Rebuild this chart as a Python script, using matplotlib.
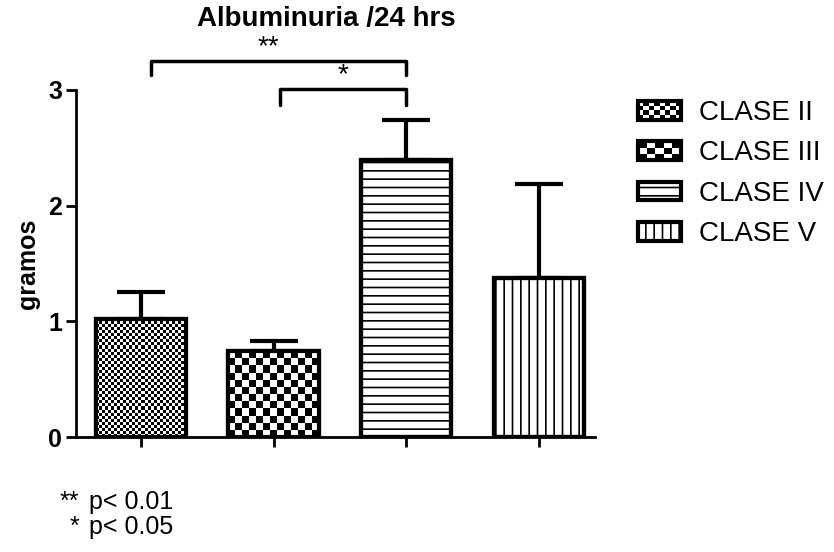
import matplotlib.pyplot as plt
import numpy as np
from matplotlib.patches import Rectangle, Patch
from matplotlib.legend_handler import HandlerBase

plt.rcParams['font.family'] = ['Liberation Sans', 'DejaVu Sans']
plt.rcParams['hatch.linewidth'] = 1.2

clases = ["CLASE II", "CLASE III", "CLASE IV", "CLASE V"]
valores = [1.02, 0.74, 2.39, 1.37]
errores = [0.23, 0.09, 0.35, 0.82]
yticks = [0, 1, 2, 3]

# checker cell size in pixels (0 = use hatch)
celdas = [3, 7, 0, 0]
hatches = [None, None, "--", "||"]


class CheckerHandler(HandlerBase):
    def __init__(self, ncols, nrows):
        super().__init__()
        self.ncols = ncols
        self.nrows = nrows

    def create_artists(self, legend, orig_handle, xdescent, ydescent,
                       width, height, fontsize, trans):
        arts = []
        x0, y0 = -xdescent, -ydescent
        cw, ch = width / self.ncols, height / self.nrows
        for i in range(self.nrows):
            for j in range(self.ncols):
                if (i + j) % 2 == 0:
                    arts.append(Rectangle((x0 + j * cw, y0 + i * ch), cw, ch,
                                          facecolor="k", edgecolor="none",
                                          transform=trans))
        arts.append(Rectangle((x0, y0), width, height, facecolor="none",
                              edgecolor="k", lw=3, transform=trans))
        return arts


fig = plt.figure(figsize=(8.34, 5.52), dpi=100)
ax = fig.add_axes([0.091, 0.2083, 0.622, 0.629])

x = np.arange(len(clases))
w = 0.68
ax.set_xlim(-0.49, 3.42)
ax.set_ylim(0, 3)

ax.errorbar(x, valores, yerr=[np.zeros(4), errores], fmt="none", ecolor="k",
            elinewidth=3, capsize=17, capthick=3, zorder=1)

bars = ax.bar(x, valores, w, facecolor="white", edgecolor="k", linewidth=3,
              zorder=3)
for b, h in zip(bars, hatches):
    if h:
        b.set_hatch(h)

# checkerboard textures
for b, c in zip(bars, celdas):
    if not c:
        continue
    x0, y0 = b.get_x(), b.get_y()
    x1, y1 = x0 + b.get_width(), y0 + b.get_height()
    p0 = ax.transData.transform((x0, y0))
    p1 = ax.transData.transform((x1, y1))
    nc = max(1, int(round((p1[0] - p0[0]) / c)))
    nr = max(1, int(round((p1[1] - p0[1]) / c)))
    ii, jj = np.indices((nr, nc))
    arr = ((ii + jj) % 2).astype(float)
    im = ax.imshow(arr, extent=[x0, x1, y0, y1], aspect="auto", cmap="gray",
                   interpolation="nearest", zorder=3.5, origin="lower")
    im.set_clip_path(b)
ax.set_xlim(-0.49, 3.42)
ax.set_ylim(0, 3)
# redraw outlines above textures
for b in bars:
    ax.add_patch(Rectangle((b.get_x(), b.get_y()), b.get_width(), b.get_height(),
                           facecolor="none", edgecolor="k", lw=3, zorder=4))

for s in ["top", "right"]:
    ax.spines[s].set_visible(False)
for s in ["left", "bottom"]:
    ax.spines[s].set_linewidth(2)
ax.set_xticks(x)
ax.set_xticklabels([])
ax.set_yticks(yticks)
ax.set_yticklabels([str(t) for t in yticks], fontsize=18, fontweight="bold")
ax.tick_params(axis="both", direction="out", length=7, width=2, pad=3)
ax.set_ylabel("gramos", fontsize=18, fontweight="bold", labelpad=6)

# significance brackets
kw = dict(color="k", lw=2.5, clip_on=False, solid_capstyle="round")
ax.plot([0.075, 0.075, 2.0, 2.0], [3.13, 3.25, 3.25, 3.13], **kw)
ax.plot([1.05, 1.05, 2.0, 2.0], [2.87, 3.01, 3.01, 2.87], **kw)
ax.text(0.96, 3.26, "**", ha="center", va="bottom", fontsize=20)
ax.text(1.525, 3.01, "*", ha="center", va="bottom", fontsize=20)

fig.text(326 / 834, 1 - 19 / 552, "Albuminuria /24 hrs", ha="center",
         va="center", fontsize=20, fontweight="bold")

handles = [Patch(), Patch(),
           Patch(facecolor="white", edgecolor="k", lw=3, hatch="--"),
           Patch(facecolor="white", edgecolor="k", lw=3, hatch="||")]
fig.legend(handles, clases, loc="upper left",
           bbox_to_anchor=(638 / 834, 1 - 100 / 552), frameon=False,
           borderaxespad=0, borderpad=0,
           fontsize=20, handlelength=1.55, handleheight=0.65, labelspacing=0.52,
           handletextpad=0.65,
           handler_map={handles[0]: CheckerHandler(8, 4),
                        handles[1]: CheckerHandler(5, 3)})

fig.text(79 / 834, 1 - 502 / 552, "**", ha="right", va="center", fontsize=18)
fig.text(89 / 834, 1 - 502 / 552, "p< 0.01", ha="left", va="center", fontsize=18)
fig.text(79 / 834, 1 - 527 / 552, "*", ha="right", va="center", fontsize=18)
fig.text(89 / 834, 1 - 527 / 552, "p< 0.05", ha="left", va="center", fontsize=18)

fig.savefig("out.png", dpi=100)
